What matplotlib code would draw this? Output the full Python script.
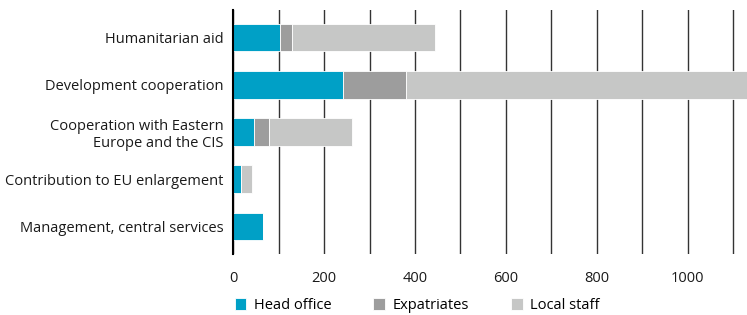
import numpy as np
import matplotlib
matplotlib.use("Agg")
import matplotlib.pyplot as plt

plt.rcParams['font.family'] = ['Open Sans', 'DejaVu Sans']

categories = ["Humanitarian aid", "Development cooperation",
              "Cooperation with Eastern\nEurope and the CIS",
              "Contribution to EU enlargement", "Management, central services"]
head_office = [103, 241, 45, 18, 65]
expatriates = [26, 140, 35, 0, 0]
local_staff = [314, 760, 182, 24, 0]

blue = "#00a0c6"
dark = "#9d9d9d"
light = "#c6c7c6"

fig = plt.figure(figsize=(7.47, 3.15), dpi=100)
ax = fig.add_axes([0.312, 0.194, 0.688, 0.774])

y = np.arange(len(categories))
h = 0.59
ho = np.array(head_office)
ex = np.array(expatriates)
lo = np.array(local_staff)
ax.barh(y, ho, height=h, color=blue, edgecolor="white", linewidth=0.6, zorder=3, label="Head office")
ax.barh(y, ex, left=ho, height=h, color=dark, edgecolor="white", linewidth=0.6, zorder=3, label="Expatriates")
ax.barh(y, lo, left=ho + ex, height=h, color=light, edgecolor="white", linewidth=0.6, zorder=3, label="Local staff")

ax.set_xlim(0, 1130)
ax.set_ylim(len(categories) - 0.42, -0.58)
ax.set_yticks(y)
ax.set_yticklabels(categories)
ax.set_xticks(np.arange(0, 1001, 200))
ax.set_xticks(np.arange(0, 1101, 100), minor=True)
ax.grid(axis="x", which="both", color="#333333", linewidth=1.0, zorder=0)
ax.tick_params(axis="both", which="both", length=0, labelsize=10.5, colors="#1a1a1a")
ax.tick_params(axis="x", pad=12)
ax.tick_params(axis="y", pad=7)
for s in ["top", "right", "bottom"]:
    ax.spines[s].set_visible(False)
ax.spines["left"].set_color("black")
ax.spines["left"].set_linewidth(1.5)
ax.spines["left"].set_zorder(4)

fig.legend(loc="center left", bbox_to_anchor=(0.314, 0.03), ncol=3, frameon=False,
           handlelength=0.8, handleheight=0.8, handletextpad=0.5, columnspacing=2.9,
           fontsize=10.5, borderaxespad=0, borderpad=0)

fig.savefig("out.png", dpi=100)
